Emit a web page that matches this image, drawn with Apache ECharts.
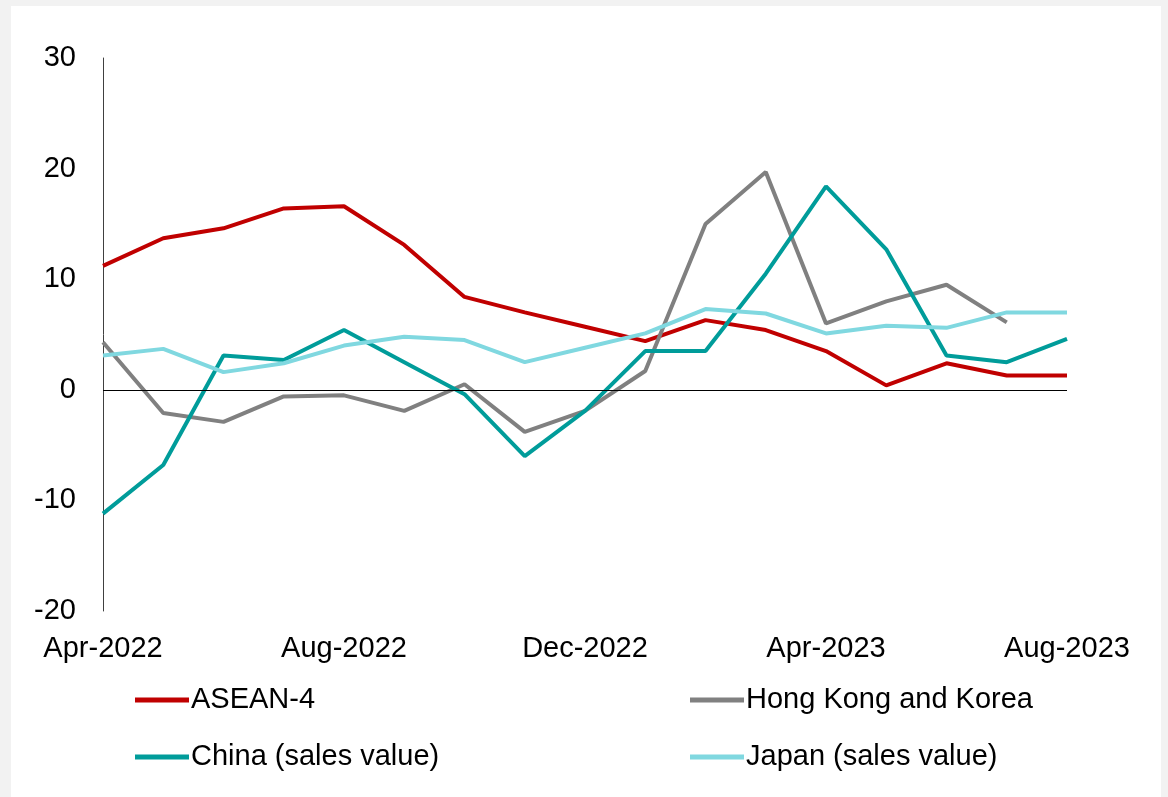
<!DOCTYPE html>
<html>
<head>
<meta charset="utf-8">
<script src="https://cdn.jsdelivr.net/npm/echarts@6/dist/echarts.min.js"></script>
<style>
  html, body { margin: 0; padding: 0; background: #f2f2f2; width: 1168px; height: 797px; overflow: hidden; }
  #chart { position: absolute; left: 11px; top: 6px; width: 1150px; height: 791px; background: #ffffff; }
</style>
</head>
<body>
<div id="chart"></div>
<script>
const categories = ['Apr-2022','May-2022','Jun-2022','Jul-2022','Aug-2022','Sep-2022','Oct-2022','Nov-2022','Dec-2022',
  'Jan-2023','Feb-2023','Mar-2023','Apr-2023','May-2023','Jun-2023','Jul-2023','Aug-2023'];
const asean4 = [11.2, 13.7, 14.6, 16.4, 16.6, 13.1, 8.4, 7.0, 5.7, 4.4, 6.3, 5.4, 3.5, 0.4, 2.4, 1.3, 1.3];
const hongKongKorea = [4.3, -2.1, -2.9, -0.6, -0.5, -1.9, 0.5, -3.8, -1.9, 1.7, 15.0, 19.7, 6.0, 8.0, 9.5, 6.1, null];
const chinaSales = [-11.2, -6.8, 3.1, 2.7, 5.4, 2.5, -0.4, -6.0, -1.9, 3.5, 3.5, 10.5, 18.4, 12.7, 3.1, 2.5, 4.6];
const japanSales = [3.1, 3.7, 1.6, 2.4, 4.0, 4.8, 4.5, 2.5, 3.8, 5.1, 7.3, 6.9, 5.1, 5.8, 5.6, 7.0, 7.0];
const yTicks = { min: -20, max: 30, interval: 10 };

const FONT = 'Liberation Sans, Arial, sans-serif';
const colors = ['#c00000', '#808080', '#009c9a', '#80d8e0'];
const names = ['ASEAN-4', 'Hong Kong and Korea', 'China (sales value)', 'Japan (sales value)'];
const dataSets = [asean4, hongKongKorea, chinaSales, japanSales];

const chart = echarts.init(document.getElementById('chart'), null, { renderer: 'canvas' });

function legendAt(name, left, top) {
  return {
    data: [name], left: left, top: top, orient: 'horizontal',
    icon: 'rect', itemWidth: 54, itemHeight: 5, itemGap: 0, padding: 0,
    textStyle: { fontFamily: FONT, fontSize: 29, color: '#000', lineHeight: 30, padding: [0, 0, 0, -3] },
    selectedMode: false
  };
}

const option = {
  animation: false,
  backgroundColor: '#ffffff',
  grid: { left: 92, right: 94, top: 52, bottom: 186, containLabel: false },
  legend: [
    legendAt(names[0], 124, 679),
    legendAt(names[1], 679, 679),
    legendAt(names[2], 124, 736),
    legendAt(names[3], 679, 736)
  ],
  xAxis: {
    type: 'category', data: categories, boundaryGap: false,
    axisLine: { show: false, onZero: false }, axisTick: { show: false },
    splitLine: { show: false },
    axisLabel: { interval: 3, margin: 23, fontFamily: FONT, fontSize: 29, color: '#000', showMaxLabel: true }
  },
  yAxis: {
    type: 'value', min: yTicks.min, max: yTicks.max, interval: yTicks.interval,
    axisLine: { show: true, lineStyle: { color: '#404040', width: 1 } },
    axisTick: { show: false }, splitLine: { show: false },
    axisLabel: { margin: 27, fontFamily: FONT, fontSize: 29, color: '#000' }
  },
  series: dataSets.map((d, i) => {
    const s = {
      name: names[i], type: 'line', data: d, symbol: 'none', smooth: false,
      lineStyle: { color: colors[i], width: 4 }, itemStyle: { color: colors[i] },
      connectNulls: false
    };
    if (i === 0) {
      s.markLine = {
        silent: true, symbol: ['none', 'none'], label: { show: false },
        lineStyle: { color: '#000', width: 1, type: 'solid' },
        data: [{ yAxis: 0 }]
      };
    }
    return s;
  })
};
chart.setOption(option);
</script>
</body>
</html>
